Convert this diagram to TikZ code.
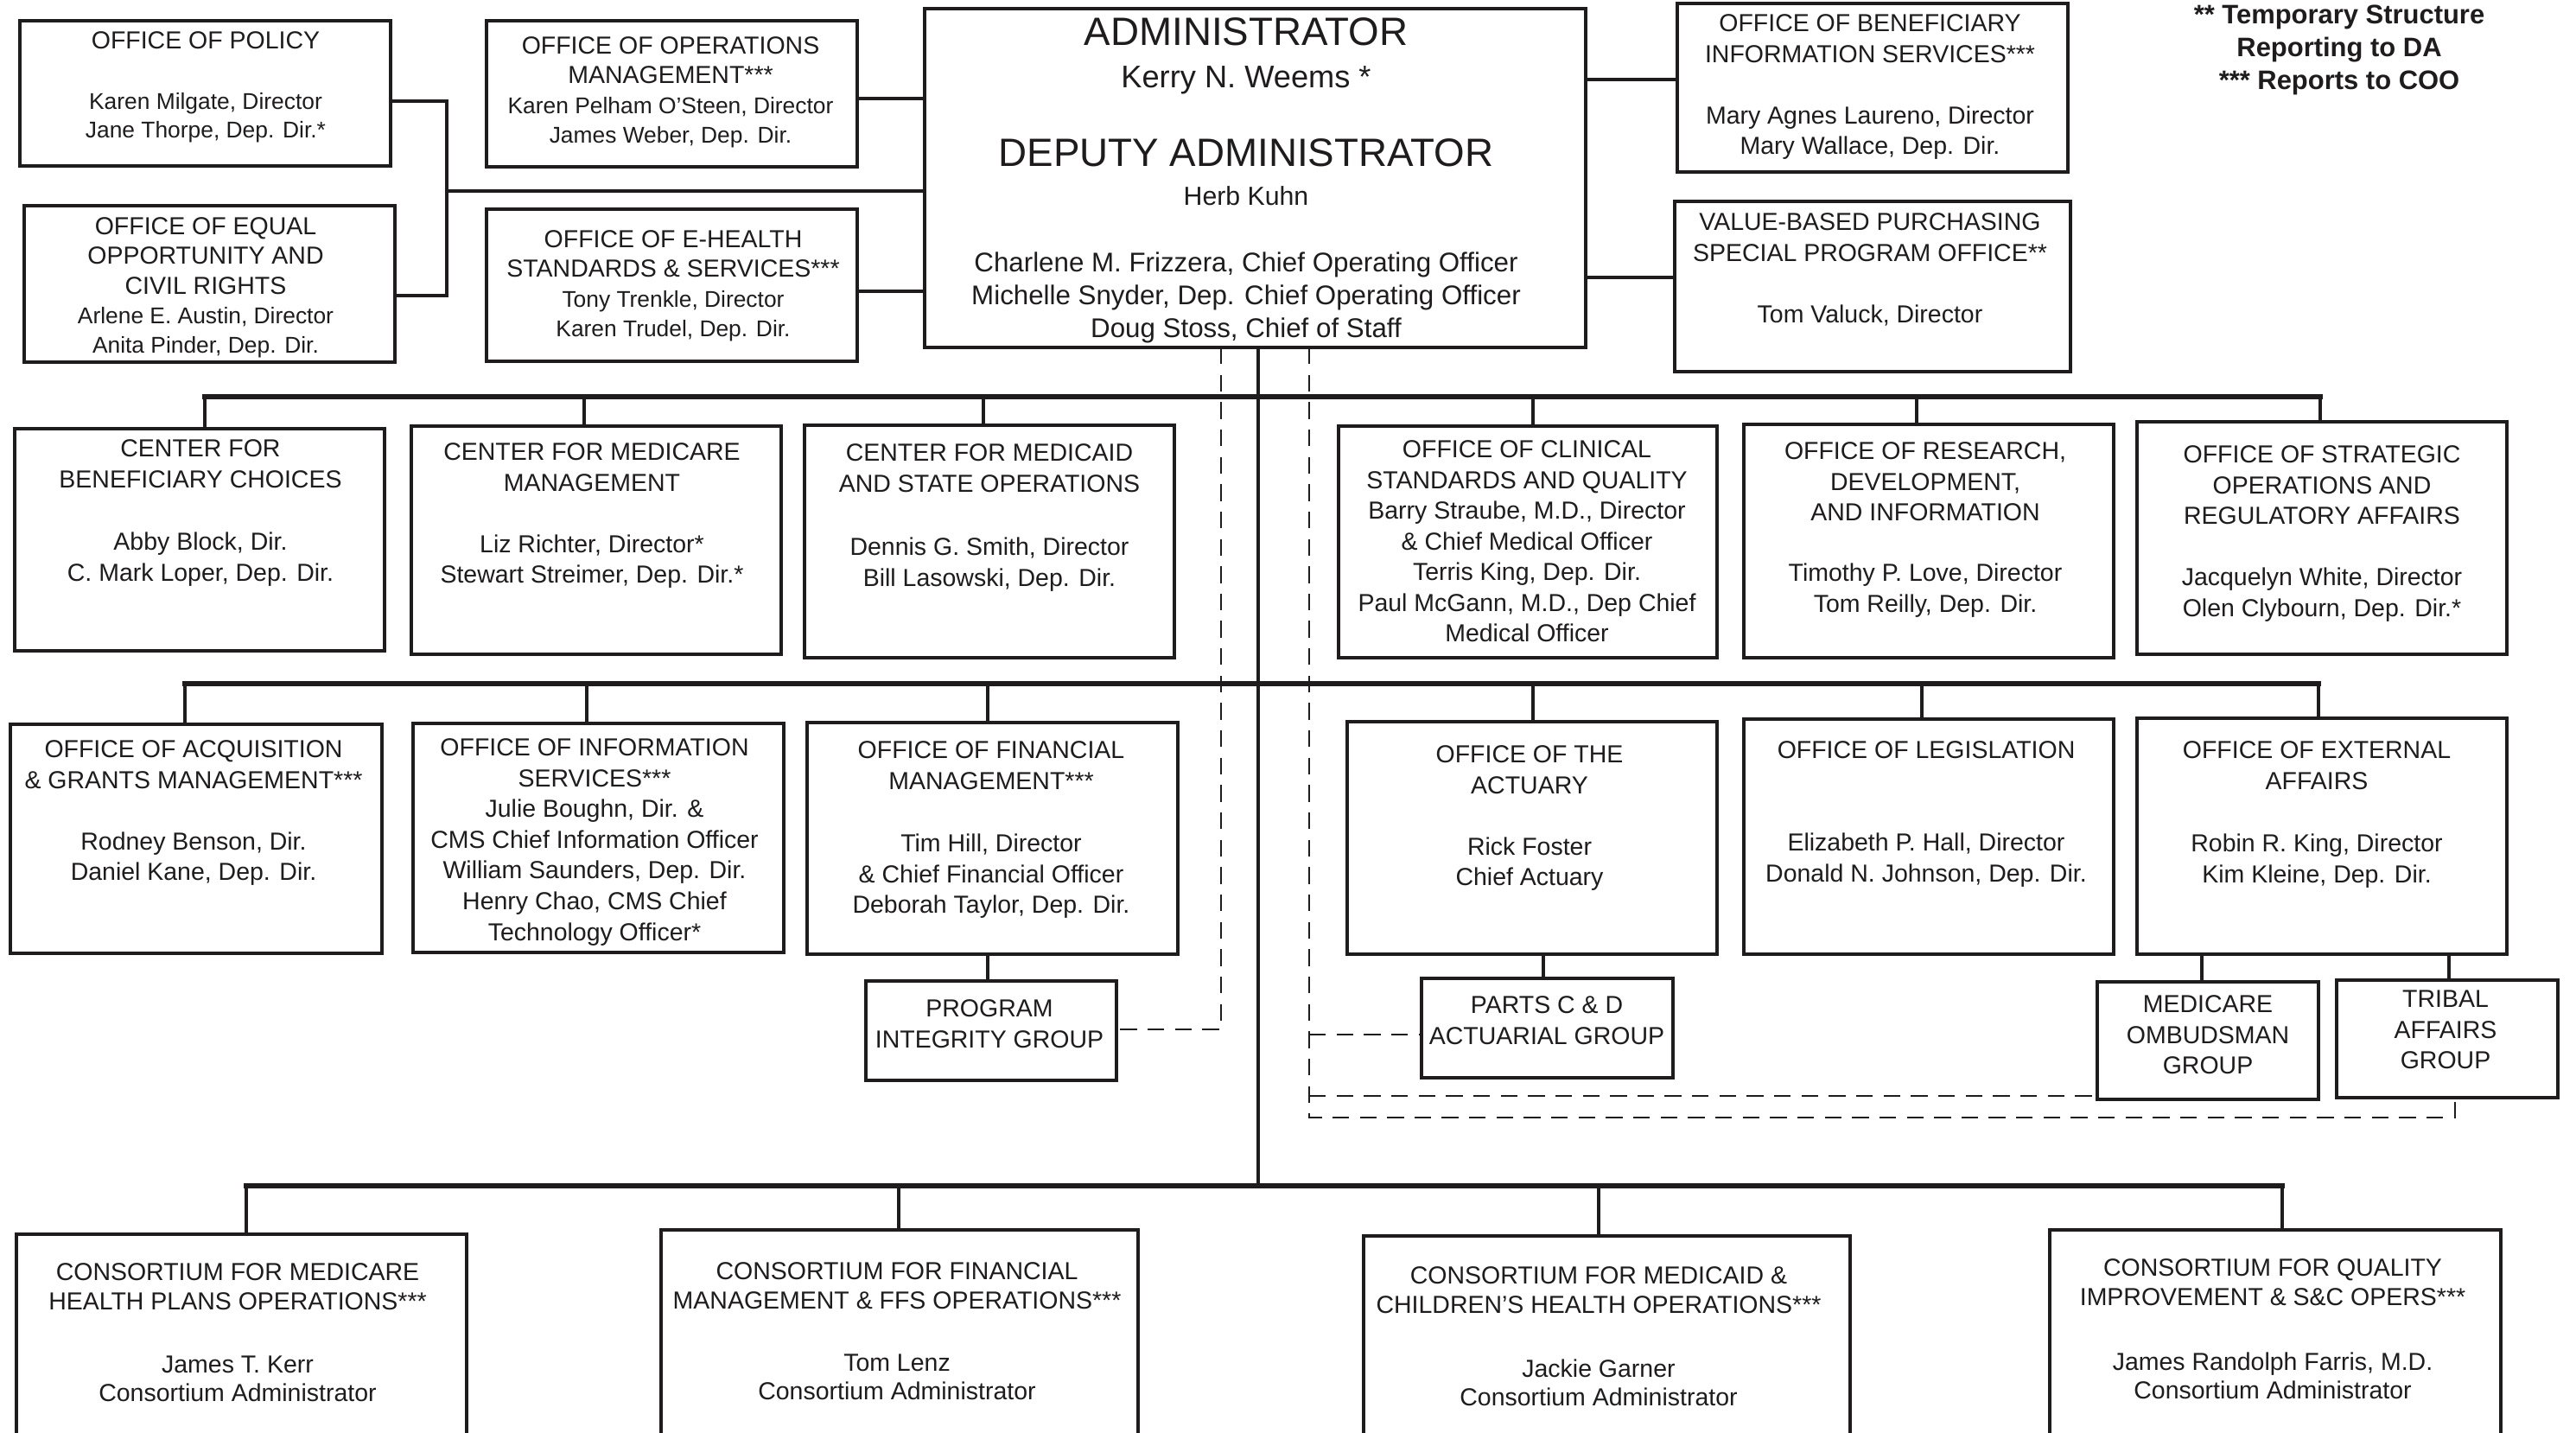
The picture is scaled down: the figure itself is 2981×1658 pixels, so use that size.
\documentclass[tikz,border=0pt]{standalone}
\usepackage{fontspec}
\setmainfont{Liberation Sans}
\definecolor{ink}{RGB}{30,28,29}
\newcommand\fsTop{\fontsize{8.1}{9.7}\selectfont}
\newcommand\fsNm{\fontsize{7.5}{9.7}\selectfont}
\newcommand\fsRow{\fontsize{8.1}{10.1}\selectfont}
\newcommand\fsBot{\fontsize{8.1}{9.5}\selectfont}
\newcommand\fsRt{\fontsize{8.1}{10}\selectfont}
\newcommand\orgbox[5]{\node[obox, minimum width={(#4-#2)*0.01cm}, minimum height={(#5-#3)*0.01cm}] (#1) at ({(#2+#4)/2},{(#3+#5)/2}) {};}
\newcommand\txtblk[5]{\node[tblk, font=#4] (#1) at (#2,{#3-10}) {#5};}
\begin{document}
\begin{tikzpicture}[x=0.01cm,y=-0.01cm,
  obox/.style={draw=ink, line width=1.4pt, fill=white, inner sep=0pt, outer sep=0pt, rectangle},
  tblk/.style={anchor=north, align=center, inner sep=0pt, outer sep=0pt, text=ink},
  tbase/.style={anchor=base, inner sep=0pt, outer sep=0pt, text=ink},
  bus/.style={draw=ink, line width=1.6pt, line cap=rect},
  drop/.style={draw=ink, line width=1.1pt},
  topln/.style={draw=ink, line width=1.3pt},
  trunk/.style={draw=ink, line width=1.3pt},
  dashln/.style={draw=ink, line width=0.7pt, dash pattern=on 5.5pt off 3.5pt}]
\useasboundingbox (0,0) rectangle (2981,1658);
\fill[white] (0,0) rectangle (2981,1658);
\clip (0,0) rectangle (2981,1658);

% ---------- boxes ----------
\orgbox{policy}{23}{24}{452}{192}
\orgbox{eeo}{28}{238}{457}{419}
\orgbox{ops}{563}{24}{992}{193}
\orgbox{ehealth}{563}{242}{992}{418}
\orgbox{admin}{1070}{10}{1835}{402}
\orgbox{obis}{1941}{4}{2393}{199}
\orgbox{vbp}{1938}{233}{2396}{430}
\orgbox{cbc}{17}{496}{445}{753}
\orgbox{cmm}{476}{493}{904}{757}
\orgbox{cmso}{931}{492}{1359}{761}
\orgbox{ocsq}{1549}{493}{1987}{761}
\orgbox{ordi}{2018}{491}{2446}{761}
\orgbox{osora}{2473}{488}{2901}{757}
\orgbox{oagm}{12}{838}{442}{1103}
\orgbox{ois}{478}{837}{907}{1102}
\orgbox{ofm}{934}{836}{1363}{1104}
\orgbox{pig}{1002}{1135}{1292}{1250}
\orgbox{oact}{1559}{835}{1987}{1104}
\orgbox{pcd}{1645}{1132}{1936}{1247}
\orgbox{oleg}{2018}{832}{2446}{1104}
\orgbox{oea}{2473}{831}{2901}{1104}
\orgbox{mog}{2427}{1136}{2683}{1272}
\orgbox{tag}{2704}{1134}{2960}{1270}
\orgbox{cmhpo}{19}{1428}{540}{1700}
\orgbox{cfm}{765}{1423}{1317}{1700}
\orgbox{cmcho}{1578}{1430}{2141}{1700}
\orgbox{cqi}{2372}{1423}{2894}{1700}

% ---------- top connectors ----------
\coordinate (k-pol) at (517,117);
\coordinate (k-eeo) at (517,342);
\coordinate (k-adm) at (1070,221);
\draw[topln] (k-pol -| policy.east) -- (k-pol) -- (k-eeo) -- (k-eeo -| eeo.east);
\draw[topln] (k-adm -| k-pol) -- (k-adm);
\coordinate (k-ops) at (1070,114);
\draw[topln] (k-ops -| ops.east) -- (k-ops);
\coordinate (k-eh) at (1070,337);
\draw[topln] (k-eh -| ehealth.east) -- (k-eh);
\coordinate (k-obis) at (1835,92);
\draw[topln] (k-obis) -- (k-obis -| obis.west);
\coordinate (k-vbp) at (1835,321);
\draw[topln] (k-vbp) -- (k-vbp -| vbp.west);

% ---------- dashed lines ----------
\coordinate (v-dl) at (1413,1191);
\draw[dashln] (v-dl |- admin.south) -- (v-dl) -- (v-dl -| pig.east);
\coordinate (v-dr) at (1515,1293);
\coordinate (v-dr2) at (2841,1293);
\draw[dashln] (v-dr |- admin.south) -- (v-dr) -- (v-dr2) -- (v-dr2 |- tag.south);
\coordinate (h-pcd) at (1515,1197);
\draw[dashln] (h-pcd) -- (h-pcd -| pcd.west);
\coordinate (h-mog) at (1515,1268);
\draw[dashln] (h-mog) -- (h-mog -| mog.west);

% ---------- trunk ----------
\coordinate (trk) at (1456,1372);
\draw[trunk] (trk |- admin.south) -- (trk);

% ---------- row 2 bus ----------
\coordinate (r2-cbc) at (237,459);
\coordinate (r2-cmm) at (676,459);
\coordinate (r2-cmso) at (1138,459);
\coordinate (r2-ocsq) at (1774,459);
\coordinate (r2-ordi) at (2218,459);
\coordinate (r2-osora) at (2685,459);
\draw[bus] (r2-cbc) -- (r2-osora);
\foreach \n in {cbc,cmm,cmso,ocsq,ordi,osora}
  \draw[drop] (r2-\n) -- (r2-\n |- \n.north);

% ---------- row 3 bus ----------
\coordinate (r3-oagm) at (214,791);
\coordinate (r3-ois) at (679,791);
\coordinate (r3-ofm) at (1143,791);
\coordinate (r3-oact) at (1774,791);
\coordinate (r3-oleg) at (2224,791);
\coordinate (r3-oea) at (2683,791);
\draw[bus] (r3-oagm) -- (r3-oea);
\foreach \n in {oagm,ois,ofm,oact,oleg,oea}
  \draw[drop] (r3-\n) -- (r3-\n |- \n.north);

% sub-units
\coordinate (v-pig) at (1143,0);
\draw[drop] (v-pig |- ofm.south) -- (v-pig |- pig.north);
\coordinate (v-pcd) at (1786,0);
\draw[drop] (v-pcd |- oact.south) -- (v-pcd |- pcd.north);
\coordinate (v-mog) at (2548,0);
\draw[drop] (v-mog |- oea.south) -- (v-mog |- mog.north);
\coordinate (v-tag) at (2834,0);
\draw[drop] (v-tag |- oea.south) -- (v-tag |- tag.north);

% ---------- bottom bus ----------
\coordinate (r4-cmhpo) at (285,1372);
\coordinate (r4-cfm) at (1040,1372);
\coordinate (r4-cmcho) at (1850,1372);
\coordinate (r4-cqi) at (2641,1372);
\draw[bus] (r4-cmhpo) -- (r4-cqi);
\foreach \n in {cmhpo,cfm,cmcho,cqi}
  \draw[drop] (r4-\n) -- (r4-\n |- \n.north);

% ---------- texts ----------
\txtblk{t-policy}{238}{47}{\fontsize{8.1}{9.4}\selectfont}{OFFICE OF POLICY\\[10.5pt]\fsNm Karen Milgate, Director\\\fsNm Jane Thorpe, Dep. Dir.*}
\txtblk{t-eeo}{238}{262}{\fsTop}{OFFICE OF EQUAL\\OPPORTUNITY AND\\CIVIL RIGHTS\\\fsNm Arlene E. Austin, Director\\\fsNm Anita Pinder, Dep. Dir.}
\txtblk{t-ops}{776}{53}{\fsTop}{OFFICE OF OPERATIONS\\MANAGEMENT***\\\fsNm Karen Pelham O'Steen, Director\\\fsNm James Weber, Dep. Dir.}
\txtblk{t-eh}{779}{277}{\fsTop}{OFFICE OF E-HEALTH\\STANDARDS \& SERVICES***\\\fsNm Tony Trenkle, Director\\\fsNm Karen Trudel, Dep. Dir.}

\node[tbase, font=\fontsize{13}{15}\selectfont] (t-adm1) at (1442,53) {ADMINISTRATOR};
\node[tbase, font=\fontsize{10.3}{12}\selectfont] (t-adm2) at (1442,102) {Kerry N. Weems *};
\node[tbase, font=\fontsize{13}{15}\selectfont] (t-adm3) at (1442,193) {DEPUTY ADMINISTRATOR};
\node[tbase, font=\fontsize{8.6}{10}\selectfont] (t-adm4) at (1442,238) {Herb Kuhn};
\node[tbase, font=\fontsize{8.9}{10}\selectfont] (t-adm5) at (1442,315) {Charlene M. Frizzera, Chief Operating Officer};
\node[tbase, font=\fontsize{8.9}{10}\selectfont] (t-adm6) at (1442,353) {Michelle Snyder, Dep. Chief Operating Officer};
\node[tbase, font=\fontsize{8.9}{10}\selectfont] (t-adm7) at (1442,391) {Doug Stoss, Chief of Staff};

\txtblk{t-obis}{2164}{27}{\fsRt}{OFFICE OF BENEFICIARY\\INFORMATION SERVICES***\\[10.2pt]Mary Agnes Laureno, Director\\Mary Wallace, Dep. Dir.}
\txtblk{t-vbp}{2164}{257}{\fsRt}{VALUE-BASED PURCHASING\\SPECIAL PROGRAM OFFICE**\\[10.2pt]Tom Valuck, Director}
\node[tblk, font=\bfseries\fontsize{8.8}{10.8}\selectfont] (legend) at (2707,6) {** Temporary Structure\\Reporting to DA\\*** Reports to COO};

\txtblk{t-cbc}{232}{519}{\fsRow}{CENTER FOR\\BENEFICIARY CHOICES\\[10.4pt]Abby Block, Dir.\\C. Mark Loper, Dep. Dir.}
\txtblk{t-cmm}{685}{523}{\fsRow}{CENTER FOR MEDICARE\\MANAGEMENT\\[10.1pt]Liz Richter, Director*\\Stewart Streimer, Dep. Dir.*}
\txtblk{t-cmso}{1145}{524}{\fsRow}{CENTER FOR MEDICAID\\AND STATE OPERATIONS\\[10.7pt]Dennis G. Smith, Director\\Bill Lasowski, Dep. Dir.}
\txtblk{t-ocsq}{1767}{520}{\fsRow}{OFFICE OF CLINICAL\\STANDARDS AND QUALITY\\Barry Straube, M.D., Director\\\& Chief Medical Officer\\Terris King, Dep. Dir.\\Paul McGann, M.D., Dep Chief\\Medical Officer}
\txtblk{t-ordi}{2228}{522}{\fsRow}{OFFICE OF RESEARCH,\\DEVELOPMENT,\\AND INFORMATION\\[9.8pt]Timothy P. Love, Director\\Tom Reilly, Dep. Dir.}
\txtblk{t-osora}{2687}{526}{\fsRow}{OFFICE OF STRATEGIC\\OPERATIONS AND\\REGULATORY AFFAIRS\\[10.1pt]Jacquelyn White, Director\\Olen Clybourn, Dep. Dir.*}

\txtblk{t-oagm}{224}{867}{\fsRow}{OFFICE OF ACQUISITION\\\& GRANTS MANAGEMENT***\\[10.1pt]Rodney Benson, Dir.\\Daniel Kane, Dep. Dir.}
\txtblk{t-ois}{688}{865}{\fsRow}{OFFICE OF INFORMATION\\SERVICES***\\Julie Boughn, Dir. \&\\CMS Chief Information Officer\\William Saunders, Dep. Dir.\\Henry Chao, CMS Chief\\Technology Officer*}
\txtblk{t-ofm}{1147}{868}{\fsRow}{OFFICE OF FINANCIAL\\MANAGEMENT***\\[10.4pt]Tim Hill, Director\\\& Chief Financial Officer\\Deborah Taylor, Dep. Dir.}
\txtblk{t-pig}{1145}{1167}{\fsRow}{PROGRAM\\INTEGRITY GROUP}
\txtblk{t-oact}{1770}{873}{\fsRow}{OFFICE OF THE\\ACTUARY\\[10.1pt]Rick Foster\\Chief Actuary}
\txtblk{t-pcd}{1790}{1163}{\fsRow}{PARTS C \& D\\ACTUARIAL GROUP}
\txtblk{t-oleg}{2229}{868}{\fsRow}{OFFICE OF LEGISLATION\\[20.3pt]Elizabeth P. Hall, Director\\Donald N. Johnson, Dep. Dir.}
\txtblk{t-oea}{2681}{868}{\fsRow}{OFFICE OF EXTERNAL\\AFFAIRS\\[10.4pt]Robin R. King, Director\\Kim Kleine, Dep. Dir.}
\txtblk{t-mog}{2555}{1162}{\fsRow}{MEDICARE\\OMBUDSMAN\\GROUP}
\txtblk{t-tag}{2830}{1156}{\fsRow}{TRIBAL\\AFFAIRS\\GROUP}

\txtblk{t-cmhpo}{275}{1472}{\fsBot}{CONSORTIUM FOR MEDICARE\\HEALTH PLANS OPERATIONS***\\[11.3pt]James T. Kerr\\Consortium Administrator}
\txtblk{t-cfm}{1038}{1471}{\fsBot}{CONSORTIUM FOR FINANCIAL\\MANAGEMENT \& FFS OPERATIONS***\\[11pt]Tom Lenz\\Consortium Administrator}
\txtblk{t-cmcho}{1850}{1476}{\fsBot}{CONSORTIUM FOR MEDICAID \&\\CHILDREN'S HEALTH OPERATIONS***\\[11.5pt]Jackie Garner\\Consortium Administrator}
\txtblk{t-cqi}{2630}{1467}{\fsBot}{CONSORTIUM FOR QUALITY\\IMPROVEMENT \& S\&C OPERS***\\[11.8pt]James Randolph Farris, M.D.\\Consortium Administrator}
\end{tikzpicture}
\end{document}
